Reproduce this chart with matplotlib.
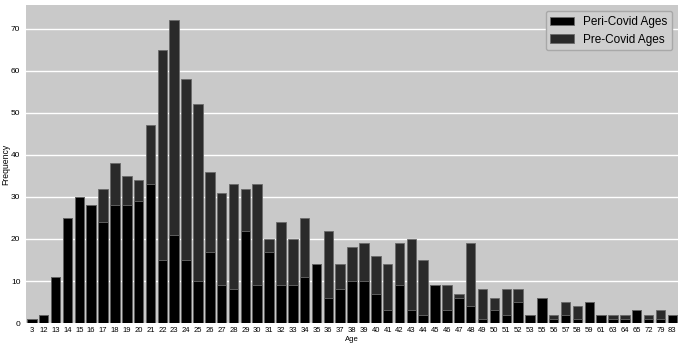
import matplotlib.pyplot as plt
import numpy as np

plt.rcParams['font.family'] = ['Liberation Sans', 'DejaVu Sans']

# Age categories on the x axis
ages = ['3', '12', '13', '14', '15', '16', '17', '18', '19', '20', '21', '22', '23', '24',
        '25', '26', '27', '28', '29', '30', '31', '32', '33', '34', '35', '36', '37', '38',
        '39', '40', '41', '42', '43', '44', '45', '46', '47', '48', '49', '50', '51', '52',
        '53', '55', '56', '57', '58', '59', '61', '63', '64', '65', '72', '79', '83']

# Pre-Covid counts (drawn behind)
pre_covid = [1, 2, 11, 25, 30, 28, 32, 38, 35, 34, 47, 65, 72, 58,
             52, 36, 31, 33, 32, 33, 20, 24, 20, 25, 14, 22, 14, 18,
             19, 16, 14, 19, 20, 15, 9, 9, 7, 19, 8, 6, 8, 8,
             2, 6, 2, 5, 4, 5, 2, 2, 2, 3, 2, 3, 2]

# Peri-Covid counts (drawn in front)
peri_covid = [1, 2, 11, 25, 30, 28, 24, 28, 28, 29, 33, 15, 21, 15,
              10, 17, 9, 8, 22, 9, 17, 9, 9, 11, 14, 6, 8, 10,
              10, 7, 3, 9, 3, 2, 9, 3, 6, 4, 1, 3, 2, 5,
              2, 6, 1, 2, 1, 5, 2, 1, 1, 3, 1, 1, 2]

x = np.arange(len(ages))

fig = plt.figure(figsize=(6.83, 3.43), dpi=100)
ax = fig.add_axes([0.038, 0.058, 0.955, 0.927])
ax.set_facecolor('#c9c9c9')
ax.set_axisbelow(True)
ax.grid(True, axis='y', color='white', linewidth=1.0)

ax.bar(x, pre_covid, width=0.8, color='#2a2a2a', edgecolor='#6a6a6a',
       linewidth=0.6, label='Pre-Covid Ages', zorder=2)
ax.bar(x, peri_covid, width=0.8, color='black', edgecolor='#6a6a6a',
       linewidth=0.6, label='Peri-Covid Ages', zorder=3)

ax.set_xlim(-0.5, len(ages) - 0.5)
ax.set_ylim(0, 75.6)
ax.set_xticks(x)
ax.set_xticklabels(ages, fontsize=5.5)
ax.set_yticks(range(0, 71, 10))
ax.tick_params(axis='y', labelsize=6, length=0, pad=4)
ax.tick_params(axis='x', length=0, pad=3)
ax.set_xlabel('Age', fontsize=5.5, labelpad=1)
ax.set_ylabel('Frequency', fontsize=6.2)
ax.yaxis.set_label_coords(-0.024, 0.5)
for s in ax.spines.values():
    s.set_visible(False)

handles, labels = ax.get_legend_handles_labels()
leg = ax.legend(handles[::-1], labels[::-1], loc='upper right', fontsize=8.5,
                facecolor='#cfcfcf', edgecolor='#a8a8a8', framealpha=1,
                handlelength=2.0, borderaxespad=0.5)

plt.savefig('out.png', dpi=100)
